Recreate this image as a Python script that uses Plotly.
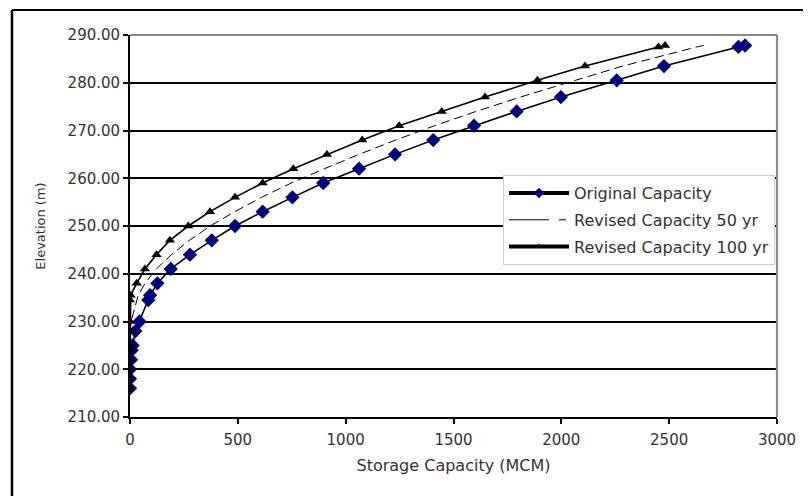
import plotly.graph_objects as go

# Elevation (m) levels shared by the three curves
elevation = [216, 218, 220, 222, 224, 225, 228, 230, 234.5, 235.5, 238, 241, 244, 247,
             250, 253, 256, 259, 262, 265, 268, 271, 274, 277, 280.5, 283.5, 287.5, 287.8]

# Storage capacity (MCM)
original = [0, 0, 0, 5, 8, 12, 25, 44, 85, 93, 127, 189, 278, 379,
            487, 615, 753, 896, 1062, 1229, 1406, 1595, 1793, 1998, 2257, 2476, 2821, 2852]
revised_50 = [0, 0, 0, 0, 0, 0, 0, 5, 30, 38, 70, 122, 192, 276,
              372, 486, 610, 748, 902, 1062, 1232, 1412, 1605, 1810, 2065, 2285, 2628, 2660]
revised_100 = [0, 0, 0, 0, 0, 0, 0, 0, 0, 3, 31, 69, 123, 185,
               270, 371, 487, 615, 757, 913, 1077, 1248, 1445, 1646, 1889, 2110, 2450, 2481]

series_names = ["Original Capacity", "Revised Capacity 50 yr", "Revised Capacity 100 yr"]
x_ticks = [0, 500, 1000, 1500, 2000, 2500, 3000]
y_ticks = [210, 220, 230, 240, 250, 260, 270, 280, 290]

FONT = "DejaVu Sans, Liberation Sans, Arial, sans-serif"
TXT = "#333333"

fig = go.Figure()

# data traces (no legend)
fig.add_trace(go.Scatter(x=original, y=elevation, mode="lines+markers",
                         line=dict(color="black", width=1.6),
                         marker=dict(symbol="diamond", size=11, color="#000080"),
                         showlegend=False))
fig.add_trace(go.Scatter(x=revised_50, y=elevation, mode="lines",
                         line=dict(color="black", width=1, dash="9px,5px"),
                         showlegend=False, hoverinfo="skip"))
fig.add_trace(go.Scatter(x=revised_100, y=elevation, mode="lines+markers",
                         line=dict(color="black", width=1.6),
                         marker=dict(symbol="triangle-up", size=9, color="black"),
                         showlegend=False))

# legend-only representations (thicker lines as in the reference legend)
fig.add_trace(go.Scatter(x=[None], y=[None], mode="lines+markers", name=series_names[0],
                         line=dict(color="black", width=4),
                         marker=dict(symbol="diamond", size=8, color="#000080"),
                         legendgroup="a"))
fig.add_trace(go.Scatter(x=[None], y=[None], mode="lines", name=series_names[1],
                         line=dict(color="black", width=1, dash="40px,10px,7px"),
                         legendgroup="b"))
fig.add_trace(go.Scatter(x=[None], y=[None], mode="lines+markers", name=series_names[2],
                         line=dict(color="black", width=4),
                         marker=dict(symbol="triangle-up", size=6, color="black"),
                         legendgroup="c"))

# outer frame (left and top lines)
fig.add_shape(type="line", xref="paper", yref="paper", x0=-0.1824, x1=-0.1824, y0=-0.25, y1=1.0655,
              line=dict(color="black", width=2.5))
fig.add_shape(type="line", xref="paper", yref="paper", x0=-0.1824, x1=1.08, y0=1.0655, y1=1.0655,
              line=dict(color="black", width=1.8))
# gray plot border top/right
fig.add_shape(type="line", xref="paper", yref="paper", x0=0, x1=1, y0=1, y1=1,
              line=dict(color="#8a8a8a", width=2.2), layer="above")
fig.add_shape(type="line", xref="paper", yref="paper", x0=1, x1=1, y0=0, y1=1,
              line=dict(color="#8a8a8a", width=2.2), layer="above")

fig.update_layout(
    width=803, height=488,
    margin=dict(l=122, r=34, t=27, b=79),
    paper_bgcolor="white", plot_bgcolor="white",
    font=dict(family=FONT, size=15, color=TXT),
    showlegend=True,
    legend=dict(x=0.5765, y=0.6333, xanchor="left", yanchor="top",
                bgcolor="white", bordercolor="#d0d0d0", borderwidth=1,
                font=dict(family=FONT, size=16, color=TXT),
                itemwidth=60, tracegroupgap=3, traceorder="grouped"),
    xaxis=dict(range=[0, 3000], tickvals=x_ticks, ticktext=[str(v) for v in x_ticks],
               showgrid=False, zeroline=False, showline=True, linecolor="black", linewidth=1.8,
               ticks="outside", ticklen=5, tickcolor="black", tickwidth=1.5,
               ticklabelstandoff=3,
               tickfont=dict(size=15, color=TXT),
               title=dict(text="Storage Capacity (MCM)", font=dict(size=16, color=TXT), standoff=12)),
    yaxis=dict(range=[210, 290], tickvals=y_ticks, tickformat=".2f",
               showgrid=True, gridcolor="black", gridwidth=1.6,
               zeroline=False, showline=True, linecolor="black", linewidth=1.8,
               ticks="outside", ticklen=5, tickcolor="black", tickwidth=1.5,
               tickfont=dict(size=15, color=TXT),
               title=dict(text="Elevation (m)", font=dict(size=13, color=TXT), standoff=19)),
)

fig.write_html("out.html")
